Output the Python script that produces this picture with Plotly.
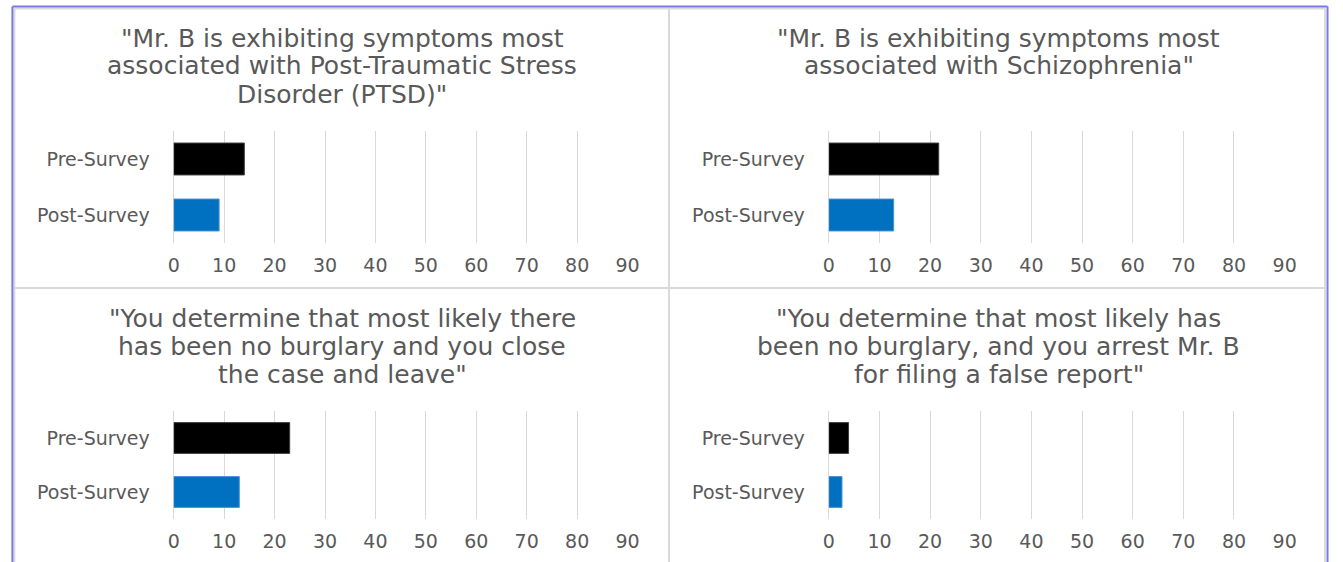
import plotly.graph_objects as go

W, H = 1343, 562

# Survey responses (percent of respondents agreeing with each statement)
categories = ["Pre-Survey", "Post-Survey"]
statements = [
    ["\"Mr. B is exhibiting symptoms most",
     "associated with Post-Traumatic Stress",
     "Disorder (PTSD)\""],
    ["\"Mr. B is exhibiting symptoms most",
     "associated with Schizophrenia\""],
    ["\"You determine that most likely there",
     "has been no burglary and you close",
     "the case and leave\""],
    ["\"You determine that most likely has",
     "been no burglary, and you arrest Mr. B",
     "for filing a false report\""],
]
pre_survey = [14, 21.7, 23, 3.9]
post_survey = [9, 12.8, 13, 2.6]
x_ticks = [0, 10, 20, 30, 40, 50, 60, 70, 80, 90]

PRE_COLOR = "#000000"
POST_COLOR = "#0070C0"
TEXT_COLOR = "#595959"
GRID_COLOR = "#D9D9D9"
FONT = "DejaVu Sans"
TITLE_SIZE = 25
TICK_SIZE = 19
LINE_STEP = 28


def px_x(p):
    return p / W


def px_y(p):
    return 1 - p / H


# panel frames (left, top, right, bottom) and plot areas in pixels
panels = [
    dict(frame=(8, 8, 672, 288), plot=(170, 131, 630, 243)),
    dict(frame=(672, 8, 1338, 288), plot=(834, 131, 1296, 243)),
    dict(frame=(8, 288, 672, 562), plot=(170, 411, 630, 519)),
    dict(frame=(672, 288, 1338, 562), plot=(834, 411, 1296, 519)),
]

fig = go.Figure()
layout = {}
annotations = []

for i, pnl in enumerate(panels):
    n = "" if i == 0 else str(i + 1)
    l, t, r, b = pnl["plot"]
    fig.add_trace(go.Bar(
        y=categories,
        x=[pre_survey[i], post_survey[i]],
        orientation="h",
        marker=dict(color=[PRE_COLOR, POST_COLOR],
                    line=dict(color=["#3F3F3F", "#4A90D0"], width=1)),
        xaxis="x" + n,
        yaxis="y" + n,
        showlegend=False,
        hoverinfo="x+y",
    ))
    layout["xaxis" + n] = dict(
        domain=[px_x(l), px_x(r)],
        anchor="y" + n,
        range=[0, 90],
        tickvals=x_ticks,
        showgrid=True,
        gridcolor=GRID_COLOR,
        gridwidth=1,
        zeroline=True,
        zerolinecolor=GRID_COLOR,
        zerolinewidth=1,
        showline=False,
        ticks="",
        ticklabelstandoff=9,
        tickfont=dict(family=FONT, size=TICK_SIZE, color=TEXT_COLOR),
        fixedrange=True,
    )
    layout["yaxis" + n] = dict(
        domain=[px_y(b), px_y(t)],
        anchor="x" + n,
        type="category",
        categoryorder="array",
        categoryarray=categories[::-1],
        showgrid=False,
        zeroline=False,
        showline=False,
        ticks="",
        ticklabelstandoff=23,
        tickfont=dict(family=FONT, size=TICK_SIZE, color=TEXT_COLOR),
        fixedrange=True,
    )
    fl, ft, fr, fb = pnl["frame"]
    for k, line in enumerate(statements[i]):
        annotations.append(dict(
            text=line,
            x=px_x((fl + fr) / 2 + 1),
            y=px_y(ft + 30 + k * LINE_STEP),
            xref="paper", yref="paper",
            xanchor="center", yanchor="middle",
            align="center",
            showarrow=False,
            font=dict(family=FONT, size=TITLE_SIZE, color=TEXT_COLOR),
        ))

# frame lines: outer border and panel dividers
shapes = []
for x0, y0, x1, y1, color, width in [
    (8.5, 8.5, 1337, 8.5, GRID_COLOR, 2),
    (8.5, 8.5, 8.5, 562, GRID_COLOR, 2),
    (1337, 8.5, 1337, 562, GRID_COLOR, 2),
    (672, 8.5, 672, 562, GRID_COLOR, 2),
    (8.5, 288, 1337, 288, GRID_COLOR, 2),
    (6.5, 6.5, 1339.5, 6.5, "#7A7AE6", 2),
    (6.5, 6.5, 6.5, 562, "#7A7AE6", 2),
    (1339.5, 6.5, 1339.5, 562, "#7A7AE6", 2),
]:
    shapes.append(dict(
        type="line", xref="paper", yref="paper",
        x0=px_x(x0), y0=px_y(y0), x1=px_x(x1), y1=px_y(y1),
        line=dict(color=color, width=width),
        layer="above",
    ))

fig.update_layout(
    width=W,
    height=H,
    margin=dict(l=0, r=0, t=0, b=0),
    paper_bgcolor="white",
    plot_bgcolor="white",
    bargap=0.43,
    font=dict(family=FONT, color=TEXT_COLOR),
    annotations=annotations,
    shapes=shapes,
    **layout,
)

fig.write_html("out.html", config={"displayModeBar": False})
